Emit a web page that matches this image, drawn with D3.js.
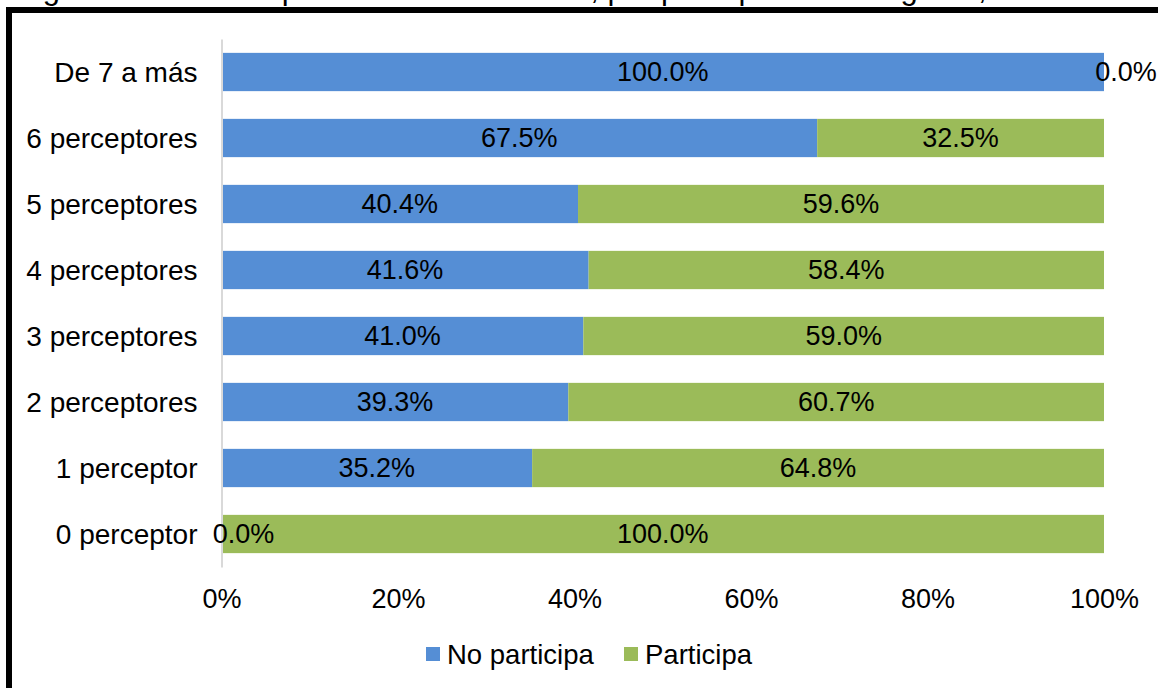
<!DOCTYPE html>
<html>
<head>
<meta charset="utf-8">
<script src="https://cdn.jsdelivr.net/npm/d3@7"></script>
<style>
  html, body { margin: 0; padding: 0; background: #fff; overflow: hidden; }
  svg { display: block; font-family: "Liberation Sans", Arial, sans-serif; }
</style>
</head>
<body>
<svg id="chart" width="1158" height="688"></svg>
<script>
// ---- Data ----
const titleText = "Figura 14: Tasa de población en el distrito, por perceptores de ingreso, 2017";
const categories = ["De 7 a más", "6 perceptores", "5 perceptores", "4 perceptores",
                    "3 perceptores", "2 perceptores", "1 perceptor", "0 perceptor"];
const seriesNames = ["No participa", "Participa"];
const noParticipa = [100.0, 67.5, 40.4, 41.6, 41.0, 39.3, 35.2, 0.0];
const participa   = [0.0, 32.5, 59.6, 58.4, 59.0, 60.7, 64.8, 100.0];
const tickValues  = [0, 20, 40, 60, 80, 100];
const colors = ["#558ED5", "#9BBB59"];

// ---- Layout ----
const svg = d3.select("#chart");
const W = 1158, H = 688;
const fs = 27;

// title, clipped by the top edge as in the reference (only descenders visible)
svg.append("text")
  .attr("x", 17).attr("y", -1.5)
  .attr("font-size", 31).attr("fill", "#000")
  .text(titleText);

// frame
svg.append("rect")
  .attr("x", 9).attr("y", 10)
  .attr("width", W + 20).attr("height", H + 20)
  .attr("fill", "none").attr("stroke", "#000").attr("stroke-width", 6);

const x = d3.scaleLinear().domain([0, 100]).range([221.5, 1104]);
const y = d3.scaleBand().domain(categories).range([39, 567])
  .paddingInner(0.42).paddingOuter(0.21);

const rows = categories.map((c, i) => ({ cat: c, vals: [noParticipa[i], participa[i]] }));
const stackData = rows.map(r => {
  let acc = 0;
  return r.vals.map((v, k) => { const s = acc; acc += v; return { cat: r.cat, k, v, x0: s, x1: acc }; });
});

// bars
const g = svg.append("g");
stackData.forEach(segs => {
  segs.forEach(s => {
    g.append("rect")
      .attr("x", x(s.x0))
      .attr("y", y(s.cat))
      .attr("width", Math.max(0, x(s.x1) - x(s.x0)))
      .attr("height", y.bandwidth())
      .attr("fill", colors[s.k]);
  });
});

// left axis
const yAxis = svg.append("g")
  .attr("transform", `translate(${x(0)},0)`)
  .call(d3.axisLeft(y).tickSize(0).tickSizeOuter(0).tickPadding(24));
yAxis.select(".domain").attr("stroke", "#d9d9d9").attr("stroke-width", 2);
yAxis.selectAll("text").attr("font-size", 28).attr("fill", "#000")
  .attr("font-family", "Liberation Sans, Arial, sans-serif").attr("dy", "0.35em");

// bottom axis (labels only)
const xAxis = svg.append("g")
  .attr("transform", `translate(0,567)`)
  .call(d3.axisBottom(x).tickValues(tickValues).tickFormat(d => d + "%").tickSize(0).tickPadding(22));
xAxis.select(".domain").remove();
xAxis.selectAll("text").attr("font-size", fs).attr("fill", "#000")
  .attr("font-family", "Liberation Sans, Arial, sans-serif");

// data labels
stackData.forEach(segs => {
  segs.forEach(s => {
    const w = x(s.x1) - x(s.x0);
    const cx = w > 0 ? (x(s.x0) + x(s.x1)) / 2 : x(s.x0) + 22;
    svg.append("text")
      .attr("x", cx)
      .attr("y", y(s.cat) + y.bandwidth() / 2)
      .attr("dy", "0.35em")
      .attr("text-anchor", "middle")
      .attr("font-size", fs)
      .attr("fill", "#000")
      .text(s.v.toFixed(1) + "%");
  });
});

// legend
const legend = svg.append("g");
const legendItems = [{ name: seriesNames[0], sx: 426 }, { name: seriesNames[1], sx: 624 }];
legendItems.forEach((it, i) => {
  legend.append("rect").attr("x", it.sx).attr("y", 647).attr("width", 14).attr("height", 14).attr("fill", colors[i]);
  legend.append("text").attr("x", it.sx + 21).attr("y", 654).attr("dy", "0.35em")
    .attr("font-size", 27.5).attr("fill", "#000").text(it.name);
});
</script>
</body>
</html>
